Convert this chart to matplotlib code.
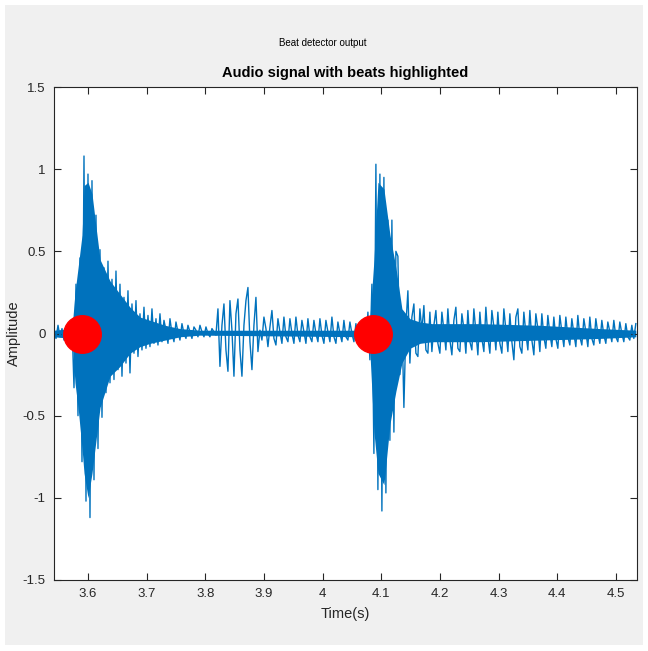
"""Beat detector output: audio signal with detected beats marked."""

import matplotlib
matplotlib.use("Agg")
import matplotlib.pyplot as plt
from matplotlib.patches import Rectangle
import numpy as np

plt.rcParams["font.family"] = ["Liberation Sans", "DejaVu Sans"]

# Signal window (seconds) and amplitude samples
T_START = 3.542
T_END = 4.534
amplitude = [
    # quiet lead-in
    0.02, -0.03, 0.05, -0.02, 0.03, -0.04, 0.02, -0.03, -0.02,
    # first beat burst
    0.06, -0.33, 0.30, -0.50, 0.46, -0.78, 1.08, -1.02, 0.97, -1.12,
    0.93, -0.89, 0.72, -0.70, 0.51,
    # decay
    -0.51, 0.40, -0.36, 0.44, -0.30, 0.33, -0.28, 0.38, -0.22, 0.30,
    -0.26, 0.22, -0.18, 0.26, -0.24, 0.18, -0.12, 0.20, -0.14, 0.12,
    -0.10, 0.16, -0.09, 0.11, -0.08, 0.15, -0.06, 0.09, -0.07, 0.12,
    # quiet stretch
    -0.05, 0.08, 0.02, -0.06, 0.09, 0.00, -0.05, 0.07, 0.01, -0.04,
    0.06, 0.00, -0.03, 0.05, 0.01, -0.03, 0.04, 0.02, -0.02, 0.05,
    0.01, -0.02, 0.04, 0.00, -0.02, 0.03, 0.01, -0.01,
    # small off-beat event
    0.15, -0.20, 0.05, 0.18, -0.10, -0.23, 0.20, 0.02, -0.26, 0.12,
    0.21, -0.10, -0.26, 0.05, 0.20, 0.28, -0.05, -0.22, 0.05, 0.22,
    -0.11, 0.02, -0.04, 0.10, 0.03, -0.08, 0.04,
    # low hum before second beat
    0.14, -0.03, -0.07, 0.09, 0.01, -0.06, 0.10, -0.02, -0.05, 0.09,
    0.00, -0.06, 0.10, -0.01, -0.05, 0.08, 0.01, -0.06, 0.09, -0.02,
    -0.05, 0.08, 0.00, -0.05, 0.09, -0.01, -0.06, 0.08, 0.01, -0.05,
    0.10, -0.02, -0.06, 0.07, 0.00, -0.05, 0.08, -0.02, -0.04, 0.07,
    0.00, -0.05, 0.06, -0.03, 0.04, -0.05,
    # second beat burst
    0.08, -0.08, 0.13, -0.16, 0.30, -0.73, 1.03, -0.95, 0.97, -1.08,
    0.95, -0.97, 0.69, -0.65, 0.69, -0.60, 0.50, 0.47, -0.25, 0.10,
    -0.45, 0.05, 0.26, -0.18, 0.10, 0.18, -0.12, -0.14, 0.15, 0.02,
    0.17, -0.10, -0.12, 0.13,
    # sustained tail
    -0.11, 0.05, 0.14, -0.06, -0.12, 0.13, 0.02, -0.10, 0.15, -0.04,
    -0.13, 0.08, 0.16, -0.09, -0.11, 0.12, 0.03, -0.12, 0.14, -0.05,
    -0.10, 0.15, 0.01, -0.13, 0.13, -0.03, -0.11, 0.16, -0.02, -0.12,
    0.14, 0.04, -0.10, 0.13, -0.06, -0.12, 0.15, 0.02, -0.11, 0.12,
    -0.05, -0.16, 0.10, 0.15, -0.08, -0.12, 0.13, 0.00, -0.10, 0.14,
    -0.04, -0.13, 0.12, 0.03, -0.11,
    # fading tail
    0.12, -0.02, -0.09, 0.11, 0.00, -0.08, 0.10, -0.03, -0.09, 0.11,
    0.01, -0.08, 0.10, -0.02, -0.07, 0.09, 0.00, -0.08, 0.11, -0.02,
    -0.07, 0.09, 0.01, -0.08, 0.10, -0.03, -0.07, 0.09, 0.00, -0.06,
    0.08, -0.01, -0.06, 0.07, 0.01, -0.05, 0.08, -0.02, -0.05, 0.07,
    0.00, -0.05, 0.06, -0.02, -0.04, 0.05, -0.03, 0.06,
]

# Dense core of the waveform (where the trace is solid), read at key times
core_times = [3.542, 3.5727, 3.5778, 3.583, 3.5898, 3.5932, 3.600, 3.6068,
              3.6136, 3.6205, 3.6375, 3.6545, 3.6716, 3.6886, 3.7057, 3.7312,
              3.7568, 3.7909, 4.0721, 4.0807, 4.0875, 4.0943, 4.1045, 4.1148,
              4.125, 4.1352, 4.1488, 4.1659, 4.1863, 4.2681, 4.3704, 4.4727,
              4.534]
core_upper = [0.02, 0.03, 0.25, 0.40, 0.60, 0.90, 0.92, 0.85,
              0.65, 0.45, 0.32, 0.24, 0.16, 0.10, 0.08, 0.05,
              0.03, 0.02, 0.02, 0.10, 0.45, 0.92, 0.88, 0.60,
              0.40, 0.15, 0.09, 0.07, 0.06, 0.06, 0.05, 0.03,
              0.02]
core_lower = [-0.02, -0.03, -0.30, -0.45, -0.70, -0.85, -1.00, -0.85,
              -0.65, -0.45, -0.26, -0.20, -0.12, -0.08, -0.06, -0.04,
              -0.02, -0.01, -0.02, -0.12, -0.60, -0.85, -0.92, -0.55,
              -0.35, -0.18, -0.09, -0.06, -0.05, -0.05, -0.04, -0.03,
              -0.02]

beat_times = [3.589, 4.086]
beat_amps = [0.0, 0.0]

x_ticks = [3.6, 3.7, 3.8, 3.9, 4.0, 4.1, 4.2, 4.3, 4.4, 4.5]
x_tick_labels = ["3.6", "3.7", "3.8", "3.9", "4", "4.1", "4.2", "4.3", "4.4", "4.5"]
y_ticks = [-1.5, -1, -0.5, 0, 0.5, 1, 1.5]
y_tick_labels = ["-1.5", "-1", "-0.5", "0", "0.5", "1", "1.5"]

time = np.linspace(T_START, T_END, len(amplitude))
blue = "#0072BD"

fig = plt.figure(figsize=(6.48, 6.51), dpi=100, facecolor="white")
fig.patches.append(Rectangle((5 / 648, 6 / 651), 638 / 648, 640 / 651,
                             transform=fig.transFigure, facecolor="#f0f0f0",
                             edgecolor="none", zorder=-10))

ax = fig.add_axes([54 / 648, 71 / 651, 583 / 648, 493 / 651])
ax.fill_between(core_times, core_lower, core_upper, color=blue, linewidth=0)
ax.plot(time, amplitude, color=blue, linewidth=1.0)
ax.plot(beat_times, beat_amps, "o", color="#FF0000", markersize=27,
        markeredgecolor="#FF0000")

ax.set_xlim(T_START, 4.536)
ax.set_ylim(-1.5, 1.5)
ax.set_xticks(x_ticks)
ax.set_xticklabels(x_tick_labels)
ax.set_yticks(y_ticks)
ax.set_yticklabels(y_tick_labels)
ax.tick_params(direction="in", top=True, right=True, length=5, width=0.8,
               colors="#262626", labelsize=9.5, pad=6)
for side in ax.spines.values():
    side.set_color("#262626")
    side.set_linewidth(0.8)

ax.set_xlabel("Time(s)", fontsize=10.5, color="#262626")
ax.set_ylabel("Amplitude", fontsize=10.5, color="#262626")
ax.xaxis.set_label_coords(0.5, -0.055)
ax.yaxis.set_label_coords(-0.057, 0.5)
ax.set_title("Audio signal with beats highlighted", fontsize=10.5,
             fontweight="bold", color="black", pad=7)

fig.text(323 / 648, 1 - 43 / 651, "Beat detector output", ha="center",
         va="center", fontsize=7, color="black")

fig.savefig("out.png", dpi=100, facecolor=fig.get_facecolor())
